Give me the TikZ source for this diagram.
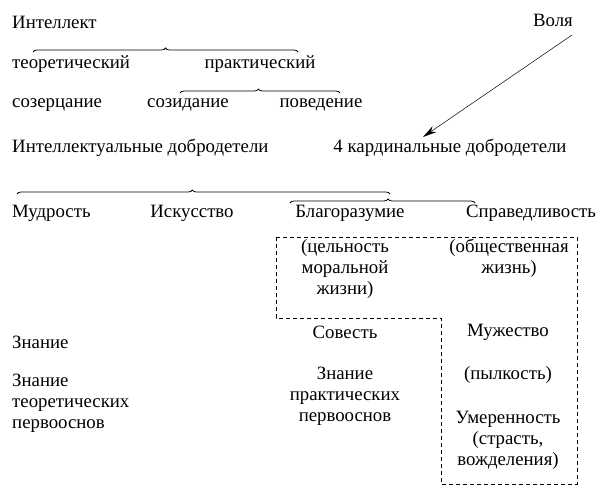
\documentclass[tikz,border=0pt]{standalone}
\usepackage{fontspec}
\setmainfont{Liberation Serif}
\usetikzlibrary{decorations.pathreplacing,arrows.meta}
\begin{document}
\begin{tikzpicture}[x=1pt,y=-1pt,
  lbl/.style={inner sep=0pt,font=\fontsize{18.8}{21}\selectfont},
  lw/.style={lbl,anchor=west},
  ctr/.style={lbl,align=center},
  lft/.style={lbl,anchor=west,align=left},
  bracedeco/.style={decorate,line width=0.8pt,decoration={brace,amplitude=4pt,#1}},
  bracedeco/.default={}]
\useasboundingbox (0,0) rectangle (600,492);
\node[lw] (intel) at (12,22) {Интеллект};
\node[ctr] (volya) at (553,20) {Воля};
\node[lw] (teor) at (12,64) {теоретический};
\node[ctr] (prakt) at (260,64) {практический};
\node[lw] (sozer) at (12,105) {созерцание};
\node[ctr] (sozid) at (188,105) {созидание};
\node[ctr] (poved) at (321,105) {поведение};
\node[lw] (intdob) at (12,148) {Интеллектуальные добродетели};
\node[ctr] (card) at (450,148) {4 кардинальные добродетели};
\node[lw] (mudr) at (12,213) {Мудрость};
\node[ctr] (isk) at (192,213) {Искусство};
\node[ctr] (blag) at (350,213) {Благоразумие};
\node[ctr] (sprav) at (531,213) {Справедливость};
\node[ctr] (celn) at (345,269) {(цельность\\моральной\\жизни)};
\node[ctr] (obsh) at (509,258) {(общественная\\жизнь)};
\node[ctr] (sovest) at (345,332) {Совесть};
\node[ctr] (znpr) at (345,396) {Знание\\практических\\первооснов};
\node[ctr] (muzh) at (508,332) {Мужество};
\node[ctr] (pyl) at (508,375) {(пылкость)};
\node[ctr] (umer) at (508,440) {Умеренность\\(страсть,\\вожделения)};
\node[lw] (znanie) at (12,342) {Знание};
\node[lft,anchor=west] (znteor) at (12,403) {Знание\\теоретических\\первооснов};
% braces
\coordinate (b1a) at (33,52); \coordinate (b1b) at (298,52);
\coordinate (b2a) at (180,93); \coordinate (b2b) at (340,93);
\coordinate (b3a) at (17,194); \coordinate (b3b) at (390,194);
\coordinate (b4a) at (290,203); \coordinate (b4b) at (475,203);
\draw[bracedeco] (b1a) -- (b1b);
\draw[bracedeco={aspect=0.49}] (b2a) -- (b2b);
\draw[bracedeco={aspect=0.47}] (b3a) -- (b3b);
\draw[bracedeco={aspect=0.53}] (b4a) -- (b4b);
% arrow
\coordinate (arrs) at (572,35);
\coordinate (arre) at (423,137);
\draw[line width=0.5pt,-{Stealth[length=14pt,width=7pt]}] (arrs) -- (arre);
% dashed outline
\draw[dashed,line width=0.8pt,dash pattern=on 4pt off 3pt]
  (276,237) -- (577,237) -- (577,484) -- (441,484) -- (441,318) -- (276,318) -- cycle;
\end{tikzpicture}
\end{document}
